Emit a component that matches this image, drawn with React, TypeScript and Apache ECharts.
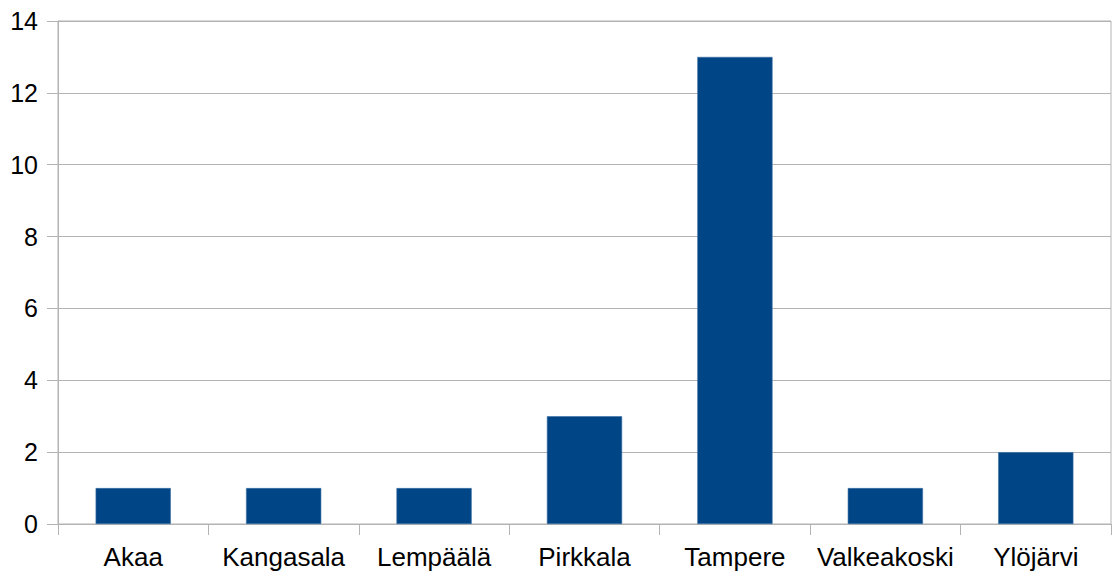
import React, { useEffect, useRef } from "react";
import * as echarts from "echarts";

const categories = ["Akaa", "Kangasala", "Lempäälä", "Pirkkala", "Tampere", "Valkeakoski", "Ylöjärvi"];
const values = [1, 1, 1, 3, 13, 1, 2];
const yMin = 0;
const yMax = 14;
const yStep = 2;

export default function App() {
  const ref = useRef<HTMLDivElement>(null);
  useEffect(() => {
    if (!ref.current) return;
    const chart = echarts.init(ref.current, null, { renderer: "svg" });
    const gray = "#b3b3b3";
    const font = "'Liberation Sans', Arial, sans-serif";
    chart.setOption({
      animation: false,
      backgroundColor: "#ffffff",
      grid: {
        left: 58,
        right: 3,
        top: 21,
        bottom: 53,
        show: true,
        borderColor: gray,
        borderWidth: 1,
      },
      xAxis: {
        type: "category",
        data: categories,
        boundaryGap: true,
        axisLine: { show: true, lineStyle: { color: gray, width: 1 } },
        axisTick: { show: true, length: 11, interval: 0, lineStyle: { color: gray } },
        axisLabel: { color: "#000", fontSize: 26, fontFamily: font, margin: 20, interval: 0 },
      },
      yAxis: {
        type: "value",
        min: yMin,
        max: yMax,
        interval: yStep,
        axisLine: { show: true, lineStyle: { color: gray, width: 1 } },
        axisTick: { show: true, length: 11, lineStyle: { color: gray } },
        axisLabel: { color: "#000", fontSize: 25, fontFamily: font, margin: 20 },
        splitLine: { show: true, lineStyle: { color: gray, width: 1 } },
      },
      series: [
        {
          type: "bar",
          data: values,
          barWidth: "50%",
          itemStyle: { color: "#004586", borderColor: "#3b6fa3", borderWidth: 0.6 },
        },
      ],
    });
    return () => chart.dispose();
  }, []);
  return (
    <div
      ref={ref}
      style={{ position: "fixed", left: 0, top: 0, width: 1114, height: 577 }}
    />
  );
}
